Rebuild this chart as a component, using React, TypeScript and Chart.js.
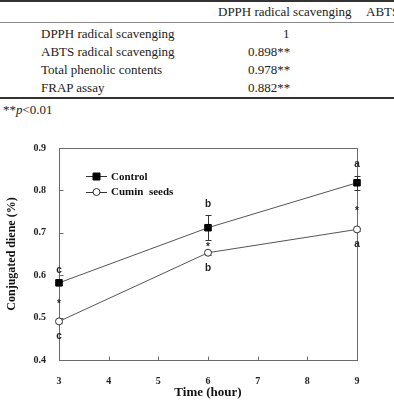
import React, { useEffect, useRef } from 'react';
import { Chart, registerables } from 'chart.js';

Chart.register(...registerables);

// ---- Table data ----
const tableHeaders = ['DPPH radical scavenging', 'ABTS radical scavenging'];
const tableRowLabels = ['DPPH radical scavenging', 'ABTS radical scavenging', 'Total phenolic contents', 'FRAP assay'];
const tableValues = ['1', '0.898**', '0.978**', '0.882**'];

// ---- Chart data ----
const timeHours = [3, 6, 9];
const controlValues = [0.582, 0.712, 0.818];
const controlErrors = [0.004, 0.03, 0.017];
const cuminValues = [0.491, 0.653, 0.708];
const cuminErrors = [0.004, 0.005, 0.004];
const controlLetters = ['c', 'b', 'a'];
const cuminLetters = ['c', 'b', 'a'];
const starMarks = ['*', '*', '*'];
const seriesNames = ['Control', 'Cumin  seeds'];

const SERIF = "'Liberation Serif', serif";
const SANS = "'Liberation Sans', sans-serif";

const framePlugin = {
  id: 'framePlugin',
  beforeDatasetsDraw(chart: any) {
    const { ctx, chartArea, scales } = chart;
    const l = Math.round(chartArea.left) + 0.5;
    const r = Math.round(chartArea.right) + 0.5;
    const t = Math.round(chartArea.top) + 0.5;
    const b = Math.round(chartArea.bottom) + 0.5;
    ctx.save();
    ctx.strokeStyle = '#6a6a6a';
    ctx.lineWidth = 1;
    ctx.strokeRect(l, t, r - l, b - t);
    ctx.beginPath();
    scales.x.ticks.forEach((tk: any) => {
      const x = Math.round(scales.x.getPixelForValue(tk.value)) + 0.5;
      ctx.moveTo(x, b);
      ctx.lineTo(x, b - 4);
    });
    scales.y.ticks.forEach((tk: any) => {
      const y = Math.round(scales.y.getPixelForValue(tk.value)) + 0.5;
      ctx.moveTo(l, y);
      ctx.lineTo(l + 4, y);
    });
    ctx.stroke();

    // error bars
    const sets = [
      { v: controlValues, e: controlErrors },
      { v: cuminValues, e: cuminErrors },
    ];
    ctx.strokeStyle = '#333';
    sets.forEach((s) => {
      s.v.forEach((val, i) => {
        const x = Math.round(scales.x.getPixelForValue(timeHours[i])) + 0.5;
        const y1 = scales.y.getPixelForValue(val + s.e[i]);
        const y2 = scales.y.getPixelForValue(val - s.e[i]);
        ctx.beginPath();
        ctx.moveTo(x, y1);
        ctx.lineTo(x, y2);
        ctx.moveTo(x - 3, Math.round(y1) + 0.5);
        ctx.lineTo(x + 3, Math.round(y1) + 0.5);
        ctx.moveTo(x - 3, Math.round(y2) + 0.5);
        ctx.lineTo(x + 3, Math.round(y2) + 0.5);
        ctx.stroke();
      });
    });
    ctx.restore();
  },
  afterDatasetsDraw(chart: any) {
    const { ctx, chartArea, scales } = chart;
    ctx.save();
    ctx.fillStyle = '#222';
    ctx.textAlign = 'center';
    ctx.textBaseline = 'middle';
    ctx.font = 'bold 10px ' + SANS;
    timeHours.forEach((t, i) => {
      const x = scales.x.getPixelForValue(t);
      const yc = scales.y.getPixelForValue(controlValues[i] + controlErrors[i]) - 11;
      ctx.fillText(controlLetters[i], x, yc);
      const yd = scales.y.getPixelForValue(cuminValues[i] - cuminErrors[i]) + 13;
      ctx.fillText(cuminLetters[i], x, yd);
      const ya = scales.y.getPixelForValue(controlValues[i] - controlErrors[i]);
      const yb = scales.y.getPixelForValue(cuminValues[i] + cuminErrors[i]);
      ctx.fillText(starMarks[i], x, (ya + yb) / 2 + 2);
    });

    // legend
    const lx = chartArea.left + 27;
    const ly = chartArea.top + 28;
    chart.data.datasets.forEach((ds: any, i: number) => {
      const y = ly + i * 15.5;
      ctx.strokeStyle = '#333';
      ctx.lineWidth = 1;
      ctx.beginPath();
      ctx.moveTo(lx, Math.round(y) + 0.5);
      ctx.lineTo(lx + 21, Math.round(y) + 0.5);
      ctx.stroke();
      ctx.fillStyle = ds.pointBackgroundColor;
      ctx.strokeStyle = ds.pointBorderColor;
      ctx.beginPath();
      if (ds.pointStyle === 'rect') {
        ctx.rect(lx + 10.5 - 3.5, y - 3, 7, 7);
      } else {
        ctx.arc(lx + 10.5, y + 0.5, 3.5, 0, Math.PI * 2);
      }
      ctx.fill();
      ctx.stroke();
      ctx.fillStyle = '#111';
      ctx.textAlign = 'left';
      ctx.font = 'bold 11px ' + SERIF;
      ctx.fillText(ds.label, lx + 25, y + 1);
    });
    ctx.restore();
  },
};

function ChartBlock() {
  const ref = useRef<HTMLCanvasElement>(null);
  useEffect(() => {
    if (!ref.current) return;
    const chart = new Chart(ref.current, {
      type: 'line',
      data: {
        datasets: [
          {
            label: seriesNames[0],
            data: timeHours.map((t, i) => ({ x: t, y: controlValues[i] })),
            borderColor: '#555',
            borderWidth: 1,
            pointStyle: 'rect',
            pointRadius: 4.6,
            pointBackgroundColor: '#000',
            pointBorderColor: '#000',
            pointBorderWidth: 1,
            clip: false,
          } as any,
          {
            label: seriesNames[1],
            data: timeHours.map((t, i) => ({ x: t, y: cuminValues[i] })),
            borderColor: '#555',
            borderWidth: 1,
            pointStyle: 'circle',
            pointRadius: 3.5,
            pointBackgroundColor: '#fff',
            pointBorderColor: '#333',
            pointBorderWidth: 1,
            clip: false,
          } as any,
        ],
      },
      options: {
        animation: false,
        responsive: false,
        maintainAspectRatio: false,
        layout: { padding: { top: 23, right: 37, left: 0, bottom: 0 } },
        plugins: { legend: { display: false }, tooltip: { enabled: false } },
        scales: {
          x: {
            type: 'linear',
            min: 3,
            max: 9,
            grid: { display: false },
            border: { display: false },
            ticks: {
              stepSize: 1,
              padding: 7,
              color: '#222',
              font: { family: SERIF, size: 10, weight: 'bold' },
            },
            title: {
              display: true,
              text: 'Time (hour)',
              color: '#111',
              font: { family: SERIF, size: 13, weight: 'bold' },
              padding: { top: 0, bottom: 0 },
            },
            afterFit: (s: any) => {
              s.height = 40;
            },
          },
          y: {
            min: 0.4,
            max: 0.9,
            grid: { display: false },
            border: { display: false },
            ticks: {
              stepSize: 0.1,
              padding: 5,
              color: '#222',
              font: { family: SERIF, size: 10, weight: 'bold' },
              callback: (v: any) => Number(v).toFixed(1),
            },
            title: {
              display: true,
              text: 'Conjugated diene (%)',
              color: '#111',
              font: { family: SERIF, size: 12, weight: 'bold' },
              padding: { top: 5, bottom: 0 },
            },
            afterFit: (s: any) => {
              s.width = 59;
            },
          },
        },
      } as any,
      plugins: [framePlugin],
    });
    return () => chart.destroy();
  }, []);
  return (
    <canvas
      ref={ref}
      width={394}
      height={275}
      style={{ position: 'absolute', left: 0, top: 125, width: 394, height: 275 }}
    />
  );
}

export default function App() {
  useEffect(() => {
    document.body.style.margin = '0';
  }, []);
  const txt: React.CSSProperties = {
    position: 'absolute',
    fontFamily: SERIF,
    fontSize: 13,
    color: '#222',
    whiteSpace: 'nowrap',
    lineHeight: '16px',
  };
  const rowY = [26, 43.5, 62, 80];
  return (
    <div style={{ position: 'relative', width: 394, height: 400, overflow: 'hidden', background: '#fff' }}>
      <div style={{ position: 'absolute', left: 0, top: 0, width: 394, height: 2, background: '#333' }} />
      <div style={{ ...txt, left: 218, top: 4 }}>{tableHeaders[0]}</div>
      <div style={{ ...txt, left: 366, top: 4 }}>{tableHeaders[1]}</div>
      <div style={{ position: 'absolute', left: 0, top: 22, width: 394, height: 1, background: '#888' }} />
      {tableRowLabels.map((lab, i) => (
        <div key={'l' + i} style={{ ...txt, left: 41, top: rowY[i] }}>{lab}</div>
      ))}
      {tableValues.map((v, i) => (
        <div key={'v' + i} style={{ ...txt, left: i === 0 ? 283 : 248, top: rowY[i] }}>{v}</div>
      ))}
      <div style={{ position: 'absolute', left: 0, top: 97, width: 394, height: 2, background: '#333' }} />
      <div style={{ ...txt, left: 3, top: 102 }}>
        **<i>p</i>&lt;0.01
      </div>
      <ChartBlock />
    </div>
  );
}
